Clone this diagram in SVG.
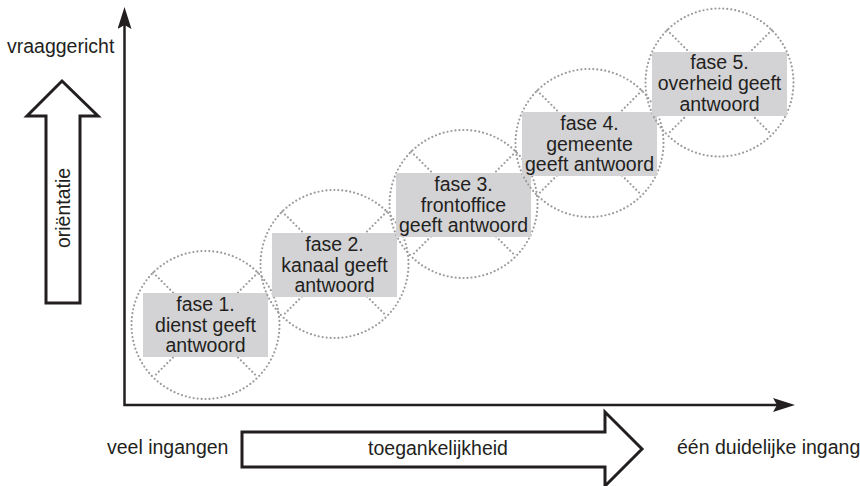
<svg xmlns="http://www.w3.org/2000/svg" width="860" height="486" viewBox="0 0 860 486">
<defs>
<style>
text{font-family:"Liberation Sans",Arial,sans-serif;font-size:19.5px;fill:#231f20}
.c{text-anchor:middle}
.dot{fill:none;stroke:#9b9b9b;stroke-width:2.2;stroke-linecap:round;stroke-dasharray:0 4}
.box{fill:#d3d3d5}
.axis{fill:none;stroke:#231f20;stroke-width:2.5}
.block{fill:#fff;stroke:#231f20;stroke-width:3;stroke-linejoin:miter}
</style>
<marker id="ah" viewBox="0 0 22 14" refX="4" refY="7" markerWidth="22" markerHeight="14" markerUnits="userSpaceOnUse" orient="auto-start-reverse">
<path d="M0,0 L22,7 L0,14 L4,7 Z" fill="#231f20"/>
</marker>
</defs>
<rect width="860" height="486" fill="#fff"/>

<g id="connectors">
<path class="axis" d="M124.5,25 L124.5,405 L777,405" marker-start="url(#ah)" marker-end="url(#ah)"/>
</g>

<g id="orientation">
<polygon class="block" points="62,81 98,116 80,116 80,303 46,303 46,116 27,116"/>
<text class="c" transform="translate(70,208) rotate(-90)">oriëntatie</text>
</g>
<text x="7" y="53">vraaggericht</text>

<g id="accessibility">
<polygon class="block" points="242,432 605,432 605,412 642,449 605,486 605,467 242,467"/>
<text class="c" x="438" y="455">toegankelijkheid</text>
</g>
<text x="107" y="454">veel ingangen</text>
<text x="677" y="454">één duidelijke ingang</text>

<g id="fase1">
<circle class="dot" cx="205.5" cy="325" r="74"/>
<path class="dot" d="M153.2,272.7 L257.8,377.3 M257.8,272.7 L153.2,377.3"/>
<rect class="box" x="143" y="293" width="125" height="64"/>
<text class="c" x="205.5" y="310.5">fase 1.</text>
<text class="c" x="205.5" y="331.5">dienst geeft</text>
<text class="c" x="205.5" y="352">antwoord</text>
</g>

<g id="fase2">
<circle class="dot" cx="334.5" cy="264" r="74"/>
<path class="dot" d="M282.2,211.7 L386.8,316.3 M386.8,211.7 L282.2,316.3"/>
<rect class="box" x="272" y="233" width="125" height="64"/>
<text class="c" x="334.5" y="250.5">fase 2.</text>
<text class="c" x="334.5" y="271.5">kanaal geeft</text>
<text class="c" x="334.5" y="292">antwoord</text>
</g>

<g id="fase3">
<circle class="dot" cx="463.5" cy="204" r="74"/>
<path class="dot" d="M411.2,151.7 L515.8,256.3 M515.8,151.7 L411.2,256.3"/>
<rect class="box" x="396" y="173" width="135" height="64"/>
<text class="c" x="463.5" y="190.5">fase 3.</text>
<text class="c" x="463.5" y="211.5">frontoffice</text>
<text class="c" x="463.5" y="232">geeft antwoord</text>
</g>

<g id="fase4">
<circle class="dot" cx="589.5" cy="143" r="74"/>
<path class="dot" d="M537.2,90.7 L641.8,195.3 M641.8,90.7 L537.2,195.3"/>
<rect class="box" x="522" y="112" width="135" height="64"/>
<text class="c" x="589.5" y="129.5">fase 4.</text>
<text class="c" x="589.5" y="150.5">gemeente</text>
<text class="c" x="589.5" y="171">geeft antwoord</text>
</g>

<g id="fase5">
<circle class="dot" cx="719.5" cy="82.5" r="74"/>
<path class="dot" d="M667.2,30.2 L771.8,134.8 M771.8,30.2 L667.2,134.8"/>
<rect class="box" x="652" y="52" width="135" height="64"/>
<text class="c" x="719.5" y="69">fase 5.</text>
<text class="c" x="719.5" y="90">overheid geeft</text>
<text class="c" x="719.5" y="110.5">antwoord</text>
</g>
</svg>
